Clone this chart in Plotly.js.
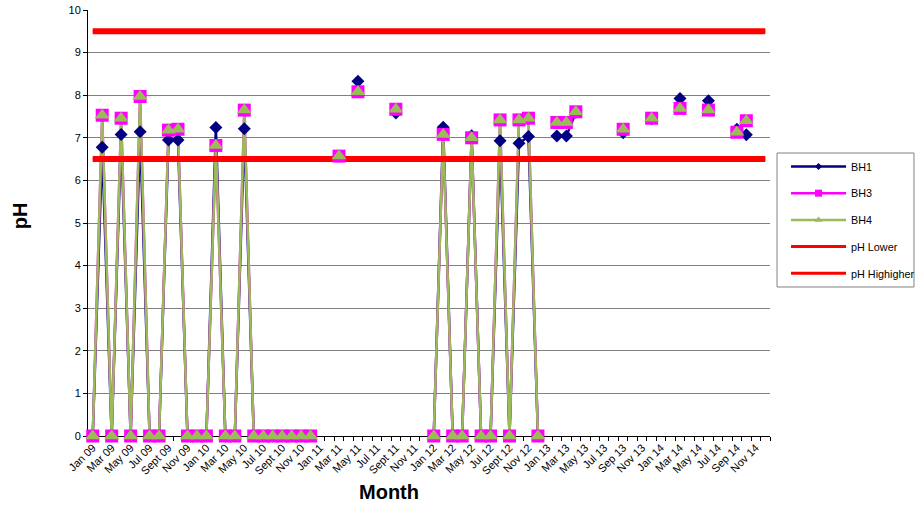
<!DOCTYPE html>
<html>
<head>
<meta charset="utf-8">
<script src="https://cdn.plot.ly/plotly-3.0.1.min.js"></script>
<style>
  html, body { margin: 0; padding: 0; background: #ffffff; }
  #chart { width: 915px; height: 506px; }
</style>
</head>
<body>
<div id="chart"></div>
<script>
// Monthly sampling periods, Jan 2009 to Dec 2014
const months = [
  'Jan 09','Feb 09','Mar 09','Apr 09','May 09','Jun 09','Jul 09','Aug 09','Sept 09','Oct 09','Nov 09','Dec 09',
  'Jan 10','Feb 10','Mar 10','Apr 10','May 10','Jun 10','Jul 10','Aug 10','Sept 10','Oct 10','Nov 10','Dec 10',
  'Jan 11','Feb 11','Mar 11','Apr 11','May 11','Jun 11','Jul 11','Aug 11','Sept 11','Oct 11','Nov 11','Dec 11',
  'Jan 12','Feb 12','Mar 12','Apr 12','May 12','Jun 12','Jul 12','Aug 12','Sept 12','Oct 12','Nov 12','Dec 12',
  'Jan 13','Feb 13','Mar 13','Apr 13','May 13','Jun 13','Jul 13','Aug 13','Sep 13','Oct 13','Nov 13','Dec 13',
  'Jan 14','Feb 14','Mar 14','Apr 14','May 14','Jun 14','Jul 14','Aug 14','Sep 14','Oct 14','Nov 14','Dec 14'
];

// pH readings per borehole (null = not sampled)
const bh1 = [
  0, 6.78, 0, 7.08, 0, 7.14, 0, 0, 6.95, 6.95, 0, 0,
  0, 7.24, 0, 0, 7.21, 0, 0, 0, 0, 0, 0, 0,
  null, null, 6.57, null, 8.33, null, null, null, 7.58, null, null, null,
  0, 7.25, 0, 0, 7.05, 0, 0, 6.93, 0, 6.87, 7.03, 0,
  null, 7.04, 7.04, 7.60, null, null, null, null, 7.12, null, null, 7.45,
  null, null, 7.92, null, null, 7.87, null, null, 7.20, 7.07, null, null
];
const bh3 = [
  0, 7.53, 0, 7.46, 0, 7.97, 0, 0, 7.18, 7.20, 0, 0,
  0, 6.82, 0, 0, 7.65, 0, 0, 0, 0, 0, 0, 0,
  null, null, 6.57, null, 8.08, null, null, null, 7.67, null, null, null,
  0, 7.08, 0, 0, 7.00, 0, 0, 7.42, 0, 7.42, 7.46, 0,
  null, 7.36, 7.36, 7.61, null, null, null, null, 7.20, null, null, 7.46,
  null, null, 7.69, null, null, 7.65, null, null, 7.13, 7.40, null, null
];
const bh4 = [
  0, 7.53, 0, 7.46, 0, 7.97, 0, 0, 7.18, 7.20, 0, 0,
  0, 6.82, 0, 0, 7.65, 0, 0, 0, 0, 0, 0, 0,
  null, null, 6.57, null, 8.08, null, null, null, 7.67, null, null, null,
  0, 7.08, 0, 0, 7.00, 0, 0, 7.42, 0, 7.42, 7.46, 0,
  null, 7.36, 7.36, 7.61, null, null, null, null, 7.20, null, null, 7.46,
  null, null, 7.69, null, null, 7.65, null, null, 7.13, 7.40, null, null
];

// Acceptable pH band
const phLowerLimit = 6.5;
const phUpperLimit = 9.5;
const phLower = months.map(() => phLowerLimit);
const phUpper = months.map(() => phUpperLimit);

// Only every second month carries a visible label
const tickText = months.map((m, i) => (i % 2 === 0 ? m : ''));

const FONT = 'Liberation Sans, Arial, sans-serif';
const C_BH1 = '#000080';
const C_BH3 = '#FF00FF';
const C_BH4 = '#9BBB59';
const C_RED = '#FF0000';

const series = [
  { name: 'BH1', y: bh1, color: C_BH1, symbol: 'diamond', big: 10, small: 5.5 },
  { name: 'BH3', y: bh3, color: C_BH3, symbol: 'square', big: 13, small: 7 },
  { name: 'BH4', y: bh4, color: C_BH4, symbol: 'triangle-up', big: 13, small: 7 }
];

const traces = [];

// Series lines (with small legend markers)
series.forEach(s => {
  traces.push({
    type: 'scatter', mode: 'lines+markers', name: s.name, legendgroup: s.name,
    x: months, y: s.y,
    line: { color: s.color, width: 2.5 },
    marker: { symbol: s.symbol, size: s.small, color: s.color },
    cliponaxis: false, connectgaps: false, hoverinfo: 'x+y+name'
  });
});

// Limit lines: a thick stroke for the plot and a thinner one for the legend key
[['pH Lower', phLower, 'low'], ['pH Highigher', phUpper, 'high']].forEach(([nm, vals, grp]) => {
  traces.push({
    type: 'scatter', mode: 'lines', name: nm, legendgroup: grp, showlegend: false,
    x: months, y: vals, line: { color: C_RED, width: 6 }, hoverinfo: 'skip'
  });
  traces.push({
    type: 'scatter', mode: 'lines', name: nm, legendgroup: grp,
    x: months, y: vals, line: { color: C_RED, width: 3 }, hoverinfo: 'x+y+name'
  });
});

// Full-size markers drawn above everything
series.forEach(s => {
  traces.push({
    type: 'scatter', mode: 'markers', name: s.name, legendgroup: s.name, showlegend: false,
    x: months, y: s.y,
    marker: { symbol: s.symbol, size: s.big, color: s.color },
    cliponaxis: false, hoverinfo: 'skip'
  });
});

const layout = {
  width: 915, height: 506,
  margin: { l: 88, r: 145, t: 10, b: 70, pad: 0, autoexpand: false },
  paper_bgcolor: '#ffffff', plot_bgcolor: '#ffffff',
  font: { family: FONT, size: 11, color: '#000000' },
  showlegend: true,
  legend: {
    x: 1.0235, y: 0.6667, xanchor: 'left', yanchor: 'top',
    borderwidth: 0, bgcolor: 'rgba(0,0,0,0)',
    font: { family: FONT, size: 10.8, color: '#000000' },
    itemwidth: 55, tracegroupgap: 7.7
  },
  // legend frame
  shapes: [
    { type: 'rect', xref: 'paper', yref: 'paper',
      x0: 1.0103, x1: 1.2111, y0: 0.3498, y1: 0.6643,
      line: { color: '#808080', width: 1 }, fillcolor: 'rgba(0,0,0,0)', layer: 'below' }
  ],
  xaxis: {
    type: 'category', categoryorder: 'array', categoryarray: months,
    range: [-0.5, 71.5], autorange: false,
    tickmode: 'array', tickvals: months, ticktext: tickText,
    tickson: 'boundaries', ticks: 'outside', ticklen: 4, tickcolor: '#000000',
    tickangle: -45, tickfont: { family: FONT, size: 11, color: '#000000' },
    showline: true, linecolor: '#000000', linewidth: 1,
    showgrid: false, zeroline: false, layer: 'below traces'
  },
  yaxis: {
    range: [0, 10], autorange: false, tickmode: 'linear', tick0: 0, dtick: 1,
    ticks: 'outside', ticklen: 4, tickcolor: '#000000',
    tickfont: { family: FONT, size: 11, color: '#000000' },
    showline: true, linecolor: '#000000', linewidth: 1,
    showgrid: true, gridcolor: '#808080', gridwidth: 1,
    zeroline: false, layer: 'below traces'
  },
  annotations: [
    { text: '<b>pH</b>', xref: 'paper', yref: 'paper', x: -0.0997, y: 0.516,
      xanchor: 'center', yanchor: 'middle', textangle: -90, showarrow: false,
      font: { family: FONT, size: 20, color: '#000000' } },
    { text: '<b>Month</b>', xref: 'paper', yref: 'paper', x: 0.4413, y: -0.1315,
      xanchor: 'center', yanchor: 'middle', showarrow: false,
      font: { family: FONT, size: 20, color: '#000000' } }
  ]
};

Plotly.newPlot('chart', traces, layout, { displayModeBar: false, staticPlot: true });
</script>
</body>
</html>
